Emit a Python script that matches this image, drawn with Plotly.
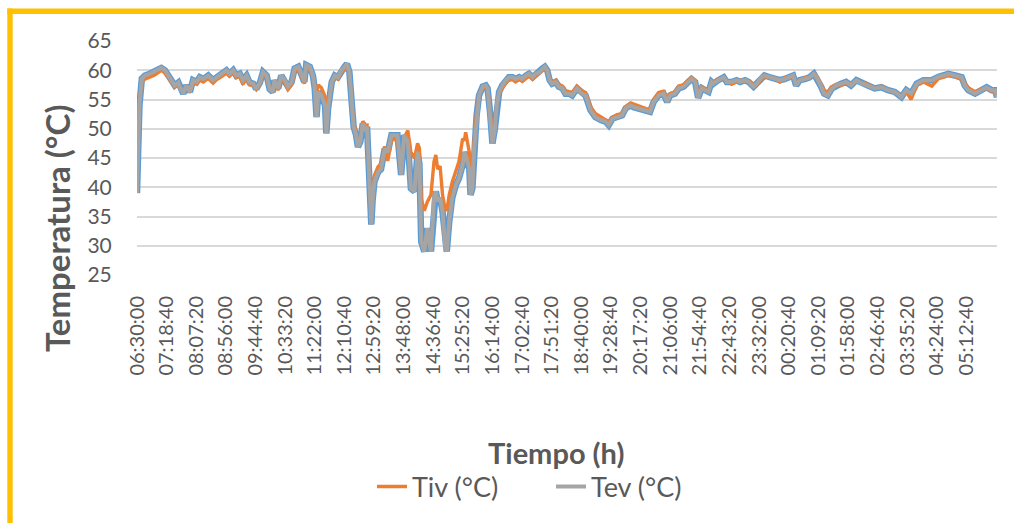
import plotly.graph_objects as go

# Minutes elapsed since the first reading (06:30:00)
elapsed_min = [
    0, 2, 4, 8, 13, 21, 29, 40, 46, 51,
    57, 62, 68, 70, 76, 81, 87, 92, 98, 103,
    109, 117, 125, 131, 139, 147, 152, 158, 163, 169,
    174, 180, 185, 191, 196, 202, 207, 213, 218, 223,
    226, 232, 237, 243, 248, 254, 259, 265, 270, 275,
    278, 284, 289, 292, 295, 298, 303, 309, 311, 314,
    320, 325, 330, 336, 341, 345, 349, 351, 353, 356,
    360, 363, 367, 371, 375, 378, 380, 382, 385, 387,
    390, 396, 401, 407, 412, 418, 423, 428, 434, 439,
    445, 450, 456, 461, 464, 467, 472, 477, 483, 488,
    491, 494, 498, 502, 506, 509, 513, 518, 524, 529,
    535, 538, 540, 546, 548, 551, 554, 558, 562, 568,
    573, 576, 580, 584, 588, 591, 595, 600, 606, 611,
    617, 622, 628, 633, 639, 644, 650, 655, 661, 666,
    670, 674, 678, 682, 688, 693, 699, 704, 710, 715,
    723, 731, 737, 745, 753, 762, 770, 775, 781, 789,
    797, 803, 811, 816, 824, 833, 843, 849, 857, 865,
    871, 876, 884, 890, 898, 906, 911, 917, 922, 928,
    933, 939, 944, 947, 955, 964, 969, 977, 985, 991,
    999, 1005, 1013, 1018, 1026, 1031, 1040, 1048, 1056, 1064,
    1072, 1078, 1083, 1089, 1097, 1105, 1112, 1118, 1124, 1129,
    1135, 1142, 1149, 1157, 1165, 1173, 1182, 1190, 1201, 1212,
    1223, 1234, 1245, 1256, 1264, 1272, 1281, 1292, 1306, 1317,
    1325, 1333, 1344, 1355, 1360, 1366, 1377, 1388, 1396, 1404,
    1410, 1413,
]

tiv = [
    44.0, 50.0, 55.0, 58.0, 58.5, 58.8, 59.2, 60.0, 59.5, 58.8,
    58.0, 57.2, 57.6, 57.0, 56.3, 57.2, 56.5, 57.9, 57.6, 58.3,
    58.0, 58.6, 57.8, 58.4, 58.9, 59.5, 59.0, 59.6, 58.7, 59.0,
    57.6, 58.6, 57.5, 57.4, 56.7, 57.6, 59.3, 58.7, 56.9, 56.5,
    57.8, 56.6, 58.6, 57.8, 56.7, 57.5, 59.8, 60.1, 59.0, 57.7,
    60.4, 60.2, 58.9, 57.3, 56.0, 57.5, 57.0, 55.5, 50.0, 54.0,
    57.8, 58.8, 58.5, 59.6, 60.2, 60.6, 59.5, 57.2, 53.5, 51.0,
    49.5, 47.5, 48.3, 51.3, 50.5, 50.6, 46.5, 40.0, 35.0, 38.5,
    42.0, 43.5, 44.0, 47.0, 44.5, 48.0, 48.5, 47.5, 44.5, 48.5,
    49.7, 46.0, 45.0, 47.5, 46.7, 38.0, 36.0, 37.5, 38.7, 44.4,
    45.5, 43.1, 43.6, 38.7, 36.4, 36.0, 38.7, 40.9, 42.6, 44.4,
    48.3, 48.0, 49.4, 46.0, 42.0, 41.5, 48.0, 52.8, 55.8, 57.0,
    57.2, 56.7, 53.5, 48.5, 50.5, 54.0, 56.0, 57.0, 57.9, 58.3,
    58.4, 58.0, 58.4, 58.1, 58.6, 59.0, 58.5, 59.0, 59.5, 60.0,
    60.3, 60.0, 58.6, 58.0, 58.3, 57.6, 57.3, 56.5, 56.4, 56.2,
    57.3, 56.5, 56.2, 53.8, 52.6, 52.0, 51.6, 51.2, 52.0, 52.4,
    52.6, 53.8, 54.4, 54.2, 53.9, 53.6, 53.2, 55.0, 56.2, 56.4,
    55.3, 56.0, 56.3, 57.3, 57.5, 58.3, 58.7, 58.3, 56.0, 57.2,
    56.8, 56.6, 57.8, 58.0, 58.5, 58.6, 58.3, 57.6, 58.0, 58.3,
    58.0, 58.2, 57.6, 57.4, 58.5, 58.9, 58.7, 58.7, 58.0, 58.7,
    58.6, 58.9, 58.0, 58.3, 58.7, 58.6, 59.2, 58.8, 57.6, 56.5,
    56.3, 57.2, 57.6, 57.4, 57.8, 57.7, 58.0, 57.9, 57.6, 56.9,
    57.3, 56.6, 56.2, 55.6, 56.3, 55.0, 57.4, 58.0, 57.3, 58.6,
    58.8, 59.1, 58.9, 58.4, 57.8, 57.0, 56.3, 56.8, 56.9, 56.4,
    56.2, 56.0,
]

tev = [
    39.0, 47.0, 54.0, 58.6, 59.1, 59.4, 59.8, 60.4, 60.0, 59.1,
    58.3, 57.4, 57.9, 57.2, 56.0, 57.4, 56.3, 58.3, 58.0, 58.8,
    58.5, 59.1, 58.3, 58.8, 59.4, 60.0, 59.4, 60.0, 59.1, 59.4,
    58.3, 59.1, 57.9, 57.7, 56.8, 57.9, 59.7, 59.1, 56.8, 56.3,
    58.3, 56.9, 59.1, 58.3, 57.2, 58.0, 60.3, 60.6, 59.4, 58.0,
    60.9, 60.6, 59.1, 56.9, 52.0, 56.3, 55.7, 54.0, 49.2, 53.5,
    58.0, 59.1, 58.8, 60.0, 60.6, 61.1, 59.7, 56.9, 52.9, 50.3,
    48.9, 46.9, 47.8, 50.9, 50.0, 50.3, 45.5, 38.7, 33.6, 37.6,
    40.9, 42.6, 43.1, 46.6, 46.0, 48.9, 48.9, 48.9, 42.1, 48.9,
    47.8, 39.8, 39.3, 46.0, 44.0, 30.7, 29.0, 33.0, 29.0, 38.2,
    39.3, 37.6, 38.2, 35.8, 30.1, 29.0, 34.1, 38.2, 40.4, 41.5,
    43.8, 46.0, 45.5, 43.1, 38.7, 39.8, 46.6, 52.3, 55.7, 57.2,
    57.4, 56.9, 52.9, 47.5, 50.0, 54.0, 56.3, 57.4, 58.3, 58.8,
    58.8, 58.5, 58.8, 58.5, 59.1, 59.4, 58.8, 59.4, 59.7, 60.3,
    60.6, 60.0, 58.3, 57.7, 58.0, 57.2, 56.9, 56.0, 56.0, 55.7,
    56.9, 56.0, 55.7, 53.2, 52.0, 51.5, 51.2, 50.6, 51.7, 52.0,
    52.3, 53.5, 54.0, 53.7, 53.5, 53.2, 52.9, 54.6, 55.7, 56.0,
    54.6, 55.7, 56.0, 56.9, 57.2, 58.0, 58.5, 58.0, 55.3, 56.9,
    56.6, 56.3, 58.0, 57.7, 58.3, 58.8, 58.0, 58.0, 58.3, 58.0,
    58.3, 58.0, 57.2, 57.7, 58.8, 59.1, 58.8, 58.5, 58.3, 58.5,
    58.8, 59.1, 57.4, 58.3, 58.5, 58.8, 59.4, 58.5, 57.2, 56.0,
    55.7, 56.9, 57.4, 57.7, 58.0, 57.4, 58.3, 57.8, 57.4, 56.9,
    57.1, 56.6, 56.3, 55.4, 56.6, 56.0, 57.7, 58.3, 58.3, 58.9,
    59.1, 59.4, 59.1, 58.8, 57.4, 56.6, 56.0, 56.6, 57.1, 56.6,
    56.6, 55.4,
]

tick_labels = [
    "06:30:00", "07:18:40", "08:07:20", "08:56:00", "09:44:40", "10:33:20",
    "11:22:00", "12:10:40", "12:59:20", "13:48:00", "14:36:40", "15:25:20",
    "16:14:00", "17:02:40", "17:51:20", "18:40:00", "19:28:40", "20:17:20",
    "21:06:00", "21:54:40", "22:43:20", "23:32:00", "00:20:40", "01:09:20",
    "01:58:00", "02:46:40", "03:35:20", "04:24:00", "05:12:40",
]


def to_sec(s):
    h, m, sec = (int(p) for p in s.split(":"))
    return h * 3600 + m * 60 + sec


start = to_sec(tick_labels[0])
tick_vals = [((to_sec(s) - start) % 86400) / 60.0 for s in tick_labels]

FONT = "Lato"
TXT = "#595959"
GOLD = "#FFC000"

fig = go.Figure()
fig.add_trace(go.Scatter(x=elapsed_min, y=tev, mode="lines", showlegend=False,
                         line=dict(color="#5B9BD5", width=6.5), hoverinfo="skip"))
fig.add_trace(go.Scatter(x=elapsed_min, y=tiv, mode="lines", name="Tiv (°C)",
                         line=dict(color="#ED7D31", width=3.4)))
fig.add_trace(go.Scatter(x=elapsed_min, y=tev, mode="lines", name="Tev (°C)",
                         line=dict(color="#A5A5A5", width=4)))

W, H = 1014, 523
L, R, T, B = 137, 17, 41, 248
pw, ph = W - L - R, H - T - B


def px(x):
    return (x - L) / pw


def py(y):
    return (H - B - y) / ph


fig.update_layout(
    width=W, height=H,
    margin=dict(l=L, r=R, t=T, b=B),
    paper_bgcolor="white", plot_bgcolor="white",
    font=dict(family=FONT, color=TXT),
    xaxis=dict(range=[0, elapsed_min[-1]], tickvals=tick_vals, ticktext=tick_labels,
               tickangle=-90, showgrid=False, zeroline=False, showline=False,
               ticks="outside", ticklen=12, tickcolor="rgba(0,0,0,0)",
               tickfont=dict(size=20, color=TXT, family=FONT)),
    yaxis=dict(range=[25, 65], dtick=5, tick0=25, showgrid=True, gridcolor="#D9D9D9",
               gridwidth=1.5, zeroline=False, showline=False,
               ticks="outside", ticklen=20, tickcolor="rgba(0,0,0,0)",
               tickfont=dict(size=21, color=TXT, family=FONT)),
    legend=dict(orientation="h", x=px(372), xanchor="left", y=py(487), yanchor="middle",
                entrywidth=134, entrywidthmode="pixels",
                font=dict(size=27, color=TXT, family=FONT), bgcolor="rgba(0,0,0,0)"),
    annotations=[
        dict(text="<b>Temperatura (°C)</b>", xref="paper", yref="paper",
             x=px(57), y=py(229), xanchor="center", yanchor="middle",
             textangle=-90, showarrow=False, font=dict(size=33, color=TXT, family=FONT)),
        dict(text="<b>Tiempo (h)</b>", xref="paper", yref="paper",
             x=px(556), y=py(452), xanchor="center", yanchor="middle",
             showarrow=False, font=dict(size=29, color=TXT, family=FONT)),
    ],
    shapes=[
        dict(type="line", xref="paper", yref="paper",
             x0=px(7.3), y0=py(11.3), x1=px(1014), y1=py(11.3),
             line=dict(color=GOLD, width=5.5)),
        dict(type="rect", xref="paper", yref="paper",
             x0=px(7.3), y0=py(8.6), x1=px(12.7), y1=py(523),
             line=dict(width=0), fillcolor=GOLD),
    ],
)

fig.write_html("out.html", config={"displayModeBar": False},
               post_script="document.body.style.margin='0';")
